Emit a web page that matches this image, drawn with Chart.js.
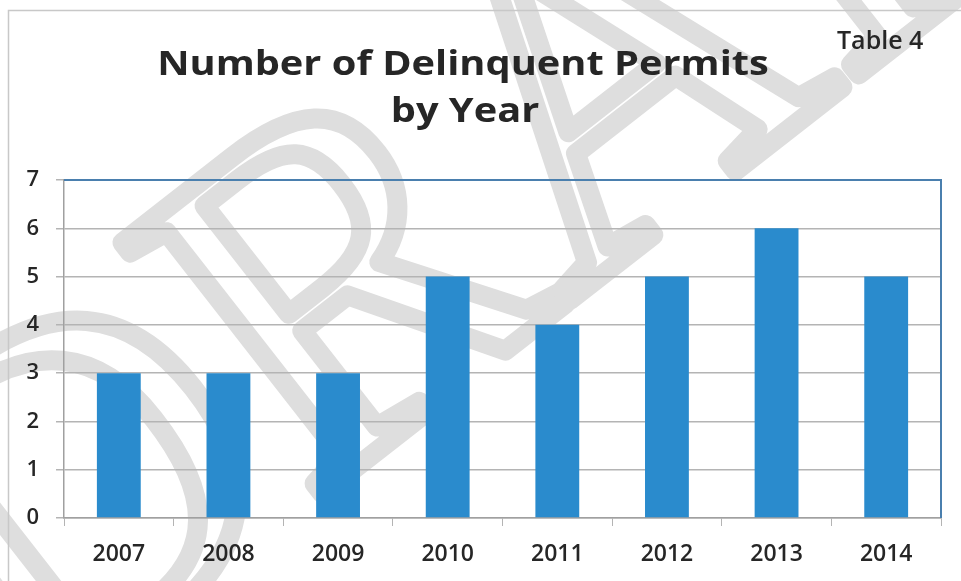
<!DOCTYPE html>
<html>
<head>
<meta charset="utf-8">
<script src="https://cdn.jsdelivr.net/npm/chart.js@4.4.1/dist/chart.umd.min.js"></script>
<style>
  html, body { margin: 0; padding: 0; background: #ffffff; }
  #wrap { width: 961px; height: 581px; position: relative; }
</style>
</head>
<body>
<div id="wrap"><canvas id="chart" width="961" height="581"></canvas></div>
<script>
// Delinquent permits counted per year
const years = ['2007', '2008', '2009', '2010', '2011', '2012', '2013', '2014'];
const permits = [3, 3, 3, 5, 4, 5, 6, 5];
const yTickValues = [0, 1, 2, 3, 4, 5, 6, 7];
const titleLines = ['Number of Delinquent Permits', 'by Year'];
const tableLabel = 'Table 4';
const stampText = 'DRAFT';

const TEXT = '#262626';
const GRID = '#b4b4b4';
const FRAME_BLUE = '#4a7fae';
const BAR = '#2a8bcd';

// Background stamp, title, table tag, outer frame and the blue top/right plot border
const decor = {
  id: 'decor',
  beforeDraw(chart) {
    const { ctx, width, height } = chart;
    ctx.save();
    ctx.fillStyle = '#ffffff';
    ctx.fillRect(0, 0, width, height);

    // hollow diagonal stamp behind the chart
    ctx.save();
    ctx.translate(30, 722);
    ctx.rotate(-38 * Math.PI / 180);
    ctx.font = '490px "Liberation Serif"';
    ctx.textAlign = 'left';
    ctx.textBaseline = 'alphabetic';
    ctx.lineJoin = 'round';
    ctx.lineWidth = 20;
    ctx.strokeStyle = '#dedede';
    ctx.strokeText(stampText, 0, 0);
    ctx.restore();

    ctx.strokeStyle = '#c8c8c8';
    ctx.lineWidth = 1.5;
    ctx.beginPath();
    ctx.moveTo(8.5, height);
    ctx.lineTo(8.5, 10.5);
    ctx.lineTo(width, 10.5);
    ctx.stroke();
    ctx.restore();
  },
  afterDraw(chart) {
    const { ctx, chartArea: a } = chart;
    ctx.save();
    ctx.strokeStyle = FRAME_BLUE;
    ctx.lineWidth = 2;
    ctx.beginPath();
    ctx.moveTo(a.left, a.top);
    ctx.lineTo(a.right, a.top);
    ctx.lineTo(a.right, a.bottom);
    ctx.stroke();

    ctx.fillStyle = TEXT;
    ctx.textAlign = 'center';
    ctx.textBaseline = 'alphabetic';
    ctx.font = '700 34px "Open Sans"';
    // the heading is set a little wider than the font's natural width
    const sx = 1.17;
    ctx.save();
    ctx.translate(463, 75);
    ctx.scale(sx, 1);
    ctx.fillText(titleLines[0], 0, 0);
    ctx.restore();
    ctx.save();
    ctx.translate(465, 122);
    ctx.scale(sx, 1);
    ctx.fillText(titleLines[1], 0, 0);
    ctx.restore();

    ctx.font = '600 25px "Open Sans"';
    ctx.textAlign = 'left';
    ctx.fillText(tableLabel, 837, 49);
    ctx.restore();
  }
};

new Chart(document.getElementById('chart'), {
  type: 'bar',
  data: {
    labels: years,
    datasets: [{
      data: permits,
      backgroundColor: BAR,
      borderWidth: 0,
      barPercentage: 0.8,
      categoryPercentage: 0.5
    }]
  },
  options: {
    responsive: false,
    animation: false,
    devicePixelRatio: 1,
    layout: { padding: { left: 0, right: 20, top: 180, bottom: 0 } },
    plugins: {
      legend: { display: false },
      title: { display: false },
      tooltip: { enabled: false }
    },
    scales: {
      x: {
        offset: true,
        grid: {
          offset: true,
          drawOnChartArea: false,
          drawTicks: true,
          tickLength: 8,
          color: GRID
        },
        border: { color: '#a0a0a0', width: 1.5 },
        ticks: {
          color: TEXT,
          padding: 15,
          font: { family: '"Open Sans"', size: 23, weight: '600' }
        },
        afterFit(scale) { scale.height = 63; }
      },
      y: {
        min: 0,
        max: 7,
        afterBuildTicks(scale) { scale.ticks = yTickValues.map(v => ({ value: v })); },
        grid: {
          color: GRID,
          lineWidth: 1.5,
          tickLength: 8
        },
        border: { color: '#a0a0a0', width: 1.5 },
        ticks: {
          color: TEXT,
          padding: 17,
          font: { family: '"Open Sans"', size: 22, weight: '600' }
        },
        afterFit(scale) { scale.width = 64; }
      }
    }
  },
  plugins: [decor]
});
</script>
</body>
</html>
